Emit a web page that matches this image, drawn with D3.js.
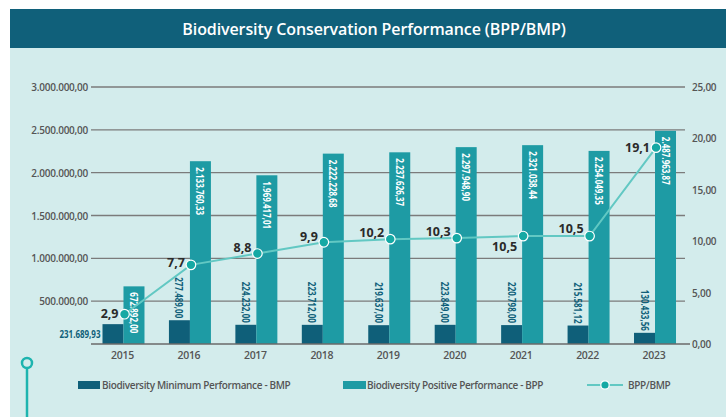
<!DOCTYPE html>
<html>
<head>
<meta charset="utf-8">
<script src="https://cdn.jsdelivr.net/npm/d3@7/dist/d3.min.js"></script>
<style>
  html, body { margin: 0; padding: 0; background: #ffffff; }
  svg { display: block; }
  .axis-text { font-family: "Open Sans", "Noto Sans", sans-serif; font-weight: 600; fill: #555; }
  .bar-label { font-family: "Open Sans", "Noto Sans", sans-serif; font-weight: 700; font-size: 10.5px; }
</style>
</head>
<body>
<svg id="chart" width="726" height="417"></svg>
<script>
// Biodiversity conservation results per year
const years = ["2015", "2016", "2017", "2018", "2019", "2020", "2021", "2022", "2023"];
const bmpValues = [231689.93, 277489.00, 224232.00, 223712.00, 219637.00, 223849.00, 220798.00, 215581.12, 130433.56];
const bppValues = [672892.00, 2133760.33, 1969417.01, 2222228.68, 2237626.37, 2297948.90, 2321038.44, 2254049.35, 2487963.87];
const ratioValues = [2.9, 7.7, 8.8, 9.9, 10.2, 10.3, 10.5, 10.5, 19.1];
const leftTicks = [0, 500000, 1000000, 1500000, 2000000, 2500000, 3000000];
const rightTicks = [0, 5, 10, 15, 20, 25];

// vertical nudge of each ratio label relative to its point
const ratioLabelDy = [-1, -2, -6, -6, -7, -7, 10, -8, 0];

const C = {
  titleBar: "#10607a",
  panel: "#d3ecec",
  bmp: "#0f5f79",
  bpp: "#1e9ba4",
  line: "#62c8c3",
  dot: "#15a9a4",
  grid: "#7b7b7b",
  accent: "#1db4af"
};

// bar value labels are set in a condensed width
const SQUEEZE = 0.76;

const locale = d3.formatLocale({ decimal: ",", thousands: ".", grouping: [3], currency: ["", ""] });
const fmt2 = locale.format(",.2f");
const fmt1 = locale.format(".1f");

const svg = d3.select("#chart");
const W = 726, H = 417;

// backgrounds
svg.append("rect").attr("width", W).attr("height", H).attr("fill", "#fff");
svg.append("rect").attr("x", 10).attr("y", 48).attr("width", W - 10).attr("height", H - 48).attr("fill", C.panel);
svg.append("rect").attr("x", 10).attr("y", 9).attr("width", W - 10).attr("height", 39).attr("fill", C.titleBar);
svg.append("text")
  .attr("x", 374).attr("y", 29)
  .attr("text-anchor", "middle").attr("dominant-baseline", "central")
  .attr("font-family", "'Open Sans', 'Noto Sans', sans-serif")
  .attr("font-weight", 600).attr("font-size", 16).attr("letter-spacing", -0.1)
  .attr("fill", "#fff")
  .text("Biodiversity Conservation Performance (BPP/BMP)");

// decorative marker at bottom left
svg.append("line").attr("x1", 27).attr("x2", 27).attr("y1", 368).attr("y2", H)
  .attr("stroke", C.accent).attr("stroke-width", 2.5);
svg.append("circle").attr("cx", 27).attr("cy", 363).attr("r", 5)
  .attr("fill", "none").attr("stroke", C.accent).attr("stroke-width", 2.5);

// scales
const x = d3.scaleBand().domain(years).range([91, 687.5]).paddingInner(0.368).paddingOuter(0.173);
const xSub = d3.scaleBand().domain(["bmp", "bpp"]).range([0, x.bandwidth()]);
const yLeft = d3.scaleLinear().domain([0, 3000000]).range([344, 87]);
const yRight = d3.scaleLinear().domain([0, 25]).range([344, 87]);

// grid + left axis
const gridG = svg.append("g");
gridG.selectAll("line").data(leftTicks.filter(d => d > 0)).join("line")
  .attr("x1", 91).attr("x2", 685)
  .attr("y1", d => yLeft(d)).attr("y2", d => yLeft(d))
  .attr("stroke", C.grid).attr("stroke-width", 1.3);

svg.append("g").selectAll("text").data(leftTicks.filter(d => d > 0)).join("text")
  .attr("class", "axis-text")
  .attr("x", 88).attr("y", d => yLeft(d))
  .attr("text-anchor", "end").attr("dominant-baseline", "central")
  .attr("font-size", 10).attr("letter-spacing", -0.25)
  .text(d => fmt2(d));

// right axis labels
svg.append("g").selectAll("text").data(rightTicks).join("text")
  .attr("class", "axis-text")
  .attr("x", 692).attr("y", d => yRight(d))
  .attr("text-anchor", "start").attr("dominant-baseline", "central")
  .attr("font-size", 10).attr("letter-spacing", -0.25)
  .text(d => fmt2(d));

// bars
const groups = svg.append("g").selectAll("g").data(years).join("g")
  .attr("transform", d => `translate(${x(d)},0)`);

groups.append("rect")
  .attr("x", xSub("bmp")).attr("width", xSub.bandwidth())
  .attr("y", (d, i) => yLeft(bmpValues[i]))
  .attr("height", (d, i) => yLeft(0) - yLeft(bmpValues[i]))
  .attr("fill", C.bmp);

groups.append("rect")
  .attr("x", xSub("bpp")).attr("width", xSub.bandwidth())
  .attr("y", (d, i) => yLeft(bppValues[i]))
  .attr("height", (d, i) => yLeft(0) - yLeft(bppValues[i]))
  .attr("fill", C.bpp);

// BPP value labels inside the bar tops
groups.append("text")
  .attr("class", "bar-label")
  .attr("fill", "#fff")
  .attr("transform", (d, i) => `translate(${xSub("bpp") + xSub.bandwidth() / 2},${yLeft(bppValues[i]) + 6}) rotate(90) scale(${SQUEEZE},1)`)
  .attr("text-anchor", "start").attr("dominant-baseline", "central")
  .text((d, i) => fmt2(bppValues[i]));

// BMP value labels above the bars (first one sits to the left)
groups.append("text")
  .attr("class", "bar-label")
  .attr("fill", C.bmp)
  .attr("transform", (d, i) => {
    const top = yLeft(bmpValues[i]);
    if (i === 0) return `translate(${xSub("bmp") - 2},${(top + yLeft(0)) / 2}) scale(${SQUEEZE},1)`;
    return `translate(${xSub("bmp") + xSub.bandwidth() / 2},${top - 2}) rotate(90) scale(${SQUEEZE},1)`;
  })
  .attr("text-anchor", "end").attr("dominant-baseline", "central")
  .text((d, i) => fmt2(bmpValues[i]));

// baseline
svg.append("line").attr("x1", 91).attr("x2", 690).attr("y1", 344).attr("y2", 344)
  .attr("stroke", "#6a6a6a").attr("stroke-width", 1.5);

// year labels
svg.append("g").selectAll("text").data(years).join("text")
  .attr("class", "axis-text")
  .attr("x", d => x(d) + x.bandwidth() / 2 - 1).attr("y", 355)
  .attr("text-anchor", "middle").attr("dominant-baseline", "central")
  .attr("font-size", 10.5).attr("letter-spacing", -0.3)
  .text(d => d);

// ratio line
const cx = d => x(d) + x.bandwidth() / 2 + 1;
const pts = years.map((d, i) => [cx(d), yRight(ratioValues[i])]);
svg.append("path")
  .attr("d", d3.line()(pts))
  .attr("fill", "none").attr("stroke", C.line).attr("stroke-width", 2);

svg.append("g").selectAll("circle").data(pts).join("circle")
  .attr("cx", d => d[0]).attr("cy", d => d[1]).attr("r", 4.8)
  .attr("fill", C.dot).attr("stroke", "#fff").attr("stroke-width", 1.2);

svg.append("g").selectAll("text").data(pts).join("text")
  .attr("x", d => d[0] - 6)
  .attr("y", (d, i) => d[1] + ratioLabelDy[i])
  .attr("text-anchor", "end").attr("dominant-baseline", "central")
  .attr("font-family", "'Open Sans', 'Noto Sans', sans-serif")
  .attr("font-weight", 700).attr("font-size", 12.5)
  .attr("fill", "#2a2a2a")
  .text((d, i) => fmt1(ratioValues[i]));

// legend
const legend = svg.append("g").attr("class", "legend");
const legendText = (xPos, label) => legend.append("text")
  .attr("class", "axis-text")
  .attr("x", xPos).attr("y", 385)
  .attr("dominant-baseline", "central")
  .attr("font-size", 10).attr("letter-spacing", -0.35)
  .attr("fill", "#666")
  .text(label);

legend.append("rect").attr("x", 78).attr("y", 381).attr("width", 22).attr("height", 8).attr("fill", C.bmp);
legendText(102, "Biodiversity Minimum Performance - BMP");
legend.append("rect").attr("x", 343).attr("y", 381).attr("width", 23).attr("height", 8).attr("fill", C.bpp);
legendText(367, "Biodiversity Positive Performance - BPP");
legend.append("line").attr("x1", 587).attr("x2", 623).attr("y1", 385).attr("y2", 385)
  .attr("stroke", C.line).attr("stroke-width", 2);
legend.append("circle").attr("cx", 605).attr("cy", 385).attr("r", 4.2)
  .attr("fill", C.dot).attr("stroke", "#fff").attr("stroke-width", 1.2);
legendText(628, "BPP/BMP");
</script>
</body>
</html>
